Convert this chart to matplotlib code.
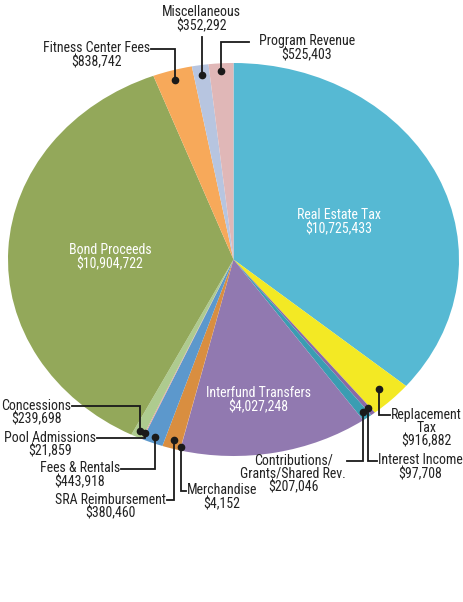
import matplotlib
matplotlib.use('Agg')
import matplotlib.pyplot as plt
import numpy as np

plt.rcParams['font.family'] = ['Roboto Condensed', 'Asap Condensed', 'Archivo Narrow', 'DejaVu Sans']

names = ['Real Estate Tax', 'Replacement Tax', 'Interest Income', 'Contributions/Grants/Shared Rev.',
         'Interfund Transfers', 'Merchandise', 'SRA Reimbursement', 'Fees & Rentals',
         'Pool Admissions', 'Concessions', 'Bond Proceeds', 'Fitness Center Fees',
         'Miscellaneous', 'Program Revenue']
values = [10725433, 916882, 97708, 207046, 4027248, 4152, 380460, 443918,
          21859, 239698, 10904722, 838742, 352292, 525403]
colors = ['#56b9d3', '#f3e924', '#8a6aa6', '#3a9db2', '#9179b0', '#e8a0a0', '#d98e40', '#5c98cc',
          '#e8a0a0', '#aecb8f', '#93a85a', '#f7a95a', '#b7c5e0', '#e0b7b7']
label_text = ['Real Estate Tax', 'Replacement\nTax', 'Interest Income', 'Contributions/\nGrants/Shared Rev.',
              'Interfund Transfers', 'Merchandise', 'SRA Reimbursement', 'Fees & Rentals',
              'Pool Admissions', 'Concessions', 'Bond Proceeds', 'Fitness Center Fees',
              'Miscellaneous', 'Program Revenue']

W, H = 463, 602
cx, cy, rx, ry = 233.5, 259.5, 225.5, 196.5
FS = 10

fig = plt.figure(figsize=(W / 100, H / 100), dpi=100)
# pie axes stretched over the ellipse bounding box
pax = fig.add_axes([(cx - rx) / W, 1 - (cy + ry) / H, 2 * rx / W, 2 * ry / H])
wedges, _ = pax.pie(values, colors=colors, startangle=90, counterclock=False, radius=1,
                    wedgeprops=dict(linewidth=0))
pax.set_xlim(-1, 1)
pax.set_ylim(-1, 1)
pax.set_aspect('auto')
pax.axis('off')

# overlay axes in pixel coordinates
ax = fig.add_axes([0, 0, 1, 1])
ax.set_xlim(0, W)
ax.set_ylim(H, 0)
ax.axis('off')

def to_px(theta, r):
    t = np.deg2rad(theta)
    return cx + rx * r * np.cos(t), cy - ry * r * np.sin(t)

mids = [(w.theta1 + w.theta2) / 2 for w in wedges]

# inside labels
inside = {0: (339, 222), 4: (258, 400), 10: (110, 257)}
for i, (x, y) in inside.items():
    ax.text(x, y, f'{label_text[i]}\n${values[i]:,}', color='white', ha='center', va='center',
            fontsize=FS, linespacing=0.95)

# outside labels: index -> (dot radius, line y, line end x, text x, ha)
outside = {
    1: (0.92, 415, 390, 391, 'left'),
    2: (0.965, 461, 377, 378, 'left'),
    3: (0.965, 461, 347, 346, 'right'),
    5: (0.985, 491, 186, 187, 'left'),
    6: (0.955, 500, 167, 166, 'right'),
    7: (0.97, 469, 121, 120, 'right'),
    8: (0.965, 438, 97, 96, 'right'),
    9: (0.965, 406, 72, 71, 'right'),
    11: (0.95, 49, 151, 150, 'right'),
    13: (0.96, 42, 249, 259, 'left'),
}
for i, (r, ly, lx, tx, ha) in outside.items():
    ang = mids[i]
    if i == 5:
        ang = wedges[i].theta1
    dx, dy = to_px(ang, r)
    ax.plot([dx, dx, lx], [dy, ly, ly], color='#1a1a1a', lw=1.3, solid_joinstyle='miter')
    ax.plot(dx, dy, 'o', color='#1a1a1a', ms=4.5)
    ax.text(tx, ly - 7.5, f'{label_text[i]}\n${values[i]:,}', ha=ha, va='top', multialignment='center',
            fontsize=FS, linespacing=0.95, color='#222222')

# miscellaneous: label straight above
dx, dy = to_px(mids[12], 0.95)
ax.plot([dx, dx], [dy, 37], color='#1a1a1a', lw=1.3)
ax.plot(dx, dy, 'o', color='#1a1a1a', ms=4.5)
ax.text(dx, 33, f'{label_text[12]}\n${values[12]:,}', ha='center', va='bottom', multialignment='center',
        fontsize=FS, linespacing=0.95, color='#222222')

fig.savefig('out.png', dpi=100)
